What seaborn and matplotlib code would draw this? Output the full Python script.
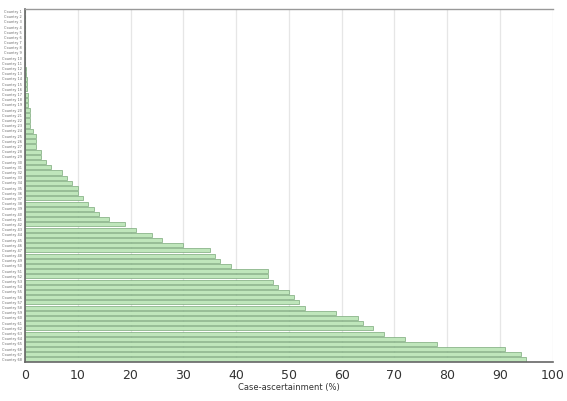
import matplotlib
matplotlib.use("Agg")
import matplotlib.pyplot as plt
import seaborn as sns
import pandas as pd

values = [0, 0, 0, 0, 0, 0, 0, 0, 0, 0.1, 0.1, 0.2, 0.2, 0.3, 0.3, 0.4, 0.5, 0.5,
          0.6, 1, 1, 1, 1, 1.5, 2, 2, 2, 3, 3, 4, 5, 7, 8, 9, 10, 10, 11, 12, 13,
          14, 16, 19, 21, 24, 26, 30, 35, 36, 37, 39, 46, 46, 47, 48, 50, 51, 52,
          53, 59, 63, 64, 66, 68, 72, 78, 91, 94, 95]
labels = [f"Country {i + 1}" for i in range(len(values))]
xticks = [0, 10, 20, 30, 40, 50, 60, 70, 80, 90, 100]

df = pd.DataFrame({"label": labels, "value": values})

sns.set_style("white")
fig = plt.figure(figsize=(5.67, 4.01), dpi=100)
ax = fig.add_axes([0.044, 0.097, 0.931, 0.881])

sns.barplot(data=df, y="label", x="value", orient="h", color="#bfe6bb",
            edgecolor="#7aa87a", linewidth=0.5, width=0.78, saturation=1, ax=ax)

ax.set_xlim(0, 100)
ax.set_ylim(len(values) - 0.5, -0.5)
ax.set_xticks(xticks)
ax.set_xticklabels([str(t) for t in xticks], fontsize=9, color="#333333")
ax.tick_params(axis="y", labelsize=2.5, length=0, pad=2, labelcolor="#666666")
ax.tick_params(axis="x", length=3, width=0.8, color="#555555", pad=2)
ax.xaxis.grid(True, color="#e6e6e6", linewidth=0.9)
ax.set_axisbelow(True)
ax.set_ylabel("")
ax.set_xlabel("Case-ascertainment (%)", fontsize=6, color="#333333", labelpad=1)
for side in ["left", "bottom"]:
    ax.spines[side].set_color("#666666")
    ax.spines[side].set_linewidth(1.2)
ax.spines["top"].set_color("#999999")
ax.spines["top"].set_linewidth(1.0)
ax.spines["right"].set_visible(False)

fig.savefig("out.png", dpi=100)
